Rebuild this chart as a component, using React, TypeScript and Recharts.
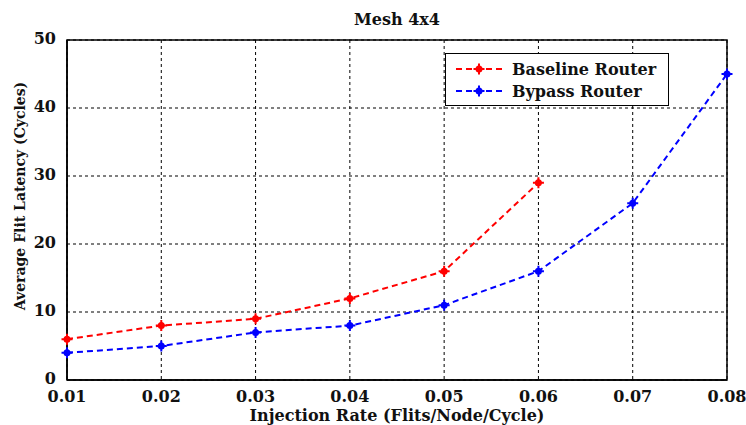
import { LineChart, Line, XAxis, YAxis, CartesianGrid, ReferenceArea } from 'recharts';

const rates = [0.01, 0.02, 0.03, 0.04, 0.05, 0.06, 0.07, 0.08];
const baseline = [6, 8, 9, 12, 16, 29, null, null];
const bypass = [4, 5, 7, 8, 11, 16, 26, 45];
const xTicks = [0.01, 0.02, 0.03, 0.04, 0.05, 0.06, 0.07, 0.08];
const yTicks = [0, 10, 20, 30, 40, 50];

const data = rates.map((r, i) => ({ rate: r, baseline: baseline[i], bypass: bypass[i] }));

const FONT = '"DejaVu Serif", serif';

if (typeof document !== 'undefined') document.body.style.margin = '0';

function Star(props: any) {
  const { cx, cy, fill } = props;
  if (cx == null || cy == null || props.value == null) return null;
  return (
    <g>
      <circle cx={cx} cy={cy} r={3.5} fill={fill} />
      <path d={`M${cx - 5.5},${cy}H${cx + 5.5}M${cx},${cy - 5.5}V${cy + 5.5}`} stroke={fill} strokeWidth={2} />
    </g>
  );
}

function YTick(props: any) {
  const { x, y, payload } = props;
  return (
    <text x={x} y={y} dy="0.25em" textAnchor="end" fontFamily={FONT} fontWeight="bold" fontSize={16} fill="#111">
      {payload.value}
    </text>
  );
}

function LegendBox() {
  const items = [
    { label: 'Baseline Router', color: '#ff0000' },
    { label: 'Bypass Router', color: '#0000ff' },
  ];
  return (
    <div style={{ position: 'absolute', left: 445, top: 53, border: '1px solid #000', background: '#fff', width: 224, height: 53, boxSizing: 'border-box', padding: '4px 0 0 8px' }}>
      {items.map((it) => (
        <div key={it.label} style={{ display: 'flex', alignItems: 'center', height: 22 }}>
          <svg width={50} height={12}>
            <line x1={2} y1={6} x2={48} y2={6} stroke={it.color} strokeWidth={2} strokeDasharray="6 4" />
            <circle cx={25} cy={6} r={3.5} fill={it.color} />
            <path d="M19.5,6H30.5M25,0.5V11.5" stroke={it.color} strokeWidth={2} />
          </svg>
          <span style={{ fontFamily: FONT, fontWeight: 'bold', fontSize: 16, marginLeft: 8, color: '#111' }}>{it.label}</span>
        </div>
      ))}
    </div>
  );
}

export default function App() {
  const tickStyle = { fontFamily: FONT, fontWeight: 'bold', fontSize: 16, fill: '#111' };
  return (
    <div style={{ position: 'relative', width: 746, height: 425, background: '#fff' }}>
      <LineChart width={746} height={425} data={data} margin={{ top: 40, right: 19, left: 0, bottom: 0 }} style={{ position: 'absolute', left: 0, top: 0 }}>
        <CartesianGrid stroke="#000" strokeDasharray="3 3" />
        <XAxis dataKey="rate" type="number" domain={[0.01, 0.08]} ticks={xTicks} tickFormatter={(v: number) => v.toFixed(2)} height={45} tick={tickStyle} axisLine={{ stroke: '#000', strokeWidth: 1.5 }} tickLine={false} tickMargin={5} />
        <YAxis type="number" domain={[0, 50]} ticks={yTicks} width={67} tick={<YTick />} axisLine={{ stroke: '#000', strokeWidth: 1.5 }} tickLine={false} tickMargin={5} />
        <ReferenceArea x1={0.01} x2={0.08} y1={0} y2={50} fill="none" stroke="#000" strokeWidth={1.5} ifOverflow="visible" />
        <Line dataKey="baseline" name="Baseline Router" stroke="#ff0000" strokeWidth={2} strokeDasharray="6 4" dot={<Star fill="#ff0000" />} isAnimationActive={false} connectNulls={false} />
        <Line dataKey="bypass" name="Bypass Router" stroke="#0000ff" strokeWidth={2} strokeDasharray="6 4" dot={<Star fill="#0000ff" />} isAnimationActive={false} />
      </LineChart>
      <div style={{ position: 'absolute', left: 67, width: 660, top: 10, textAlign: 'center', fontFamily: FONT, fontWeight: 'bold', fontSize: 16, color: '#111' }}>
        Mesh 4x4
      </div>
      <div style={{ position: 'absolute', left: 67, width: 660, top: 407, textAlign: 'center', fontFamily: FONT, fontWeight: 'bold', fontSize: 16, color: '#111', lineHeight: '18px' }}>
        Injection Rate (Flits/Node/Cycle)
      </div>
      <div style={{ position: 'absolute', left: 20, top: 196, width: 0, height: 0 }}>
        <div style={{ position: 'absolute', transform: 'translate(-50%, -50%) rotate(-90deg)', whiteSpace: 'nowrap', fontFamily: FONT, fontWeight: 'bold', fontSize: 14, color: '#111' }}>
          Average Flit Latency (Cycles)
        </div>
      </div>
      <LegendBox />
    </div>
  );
}
